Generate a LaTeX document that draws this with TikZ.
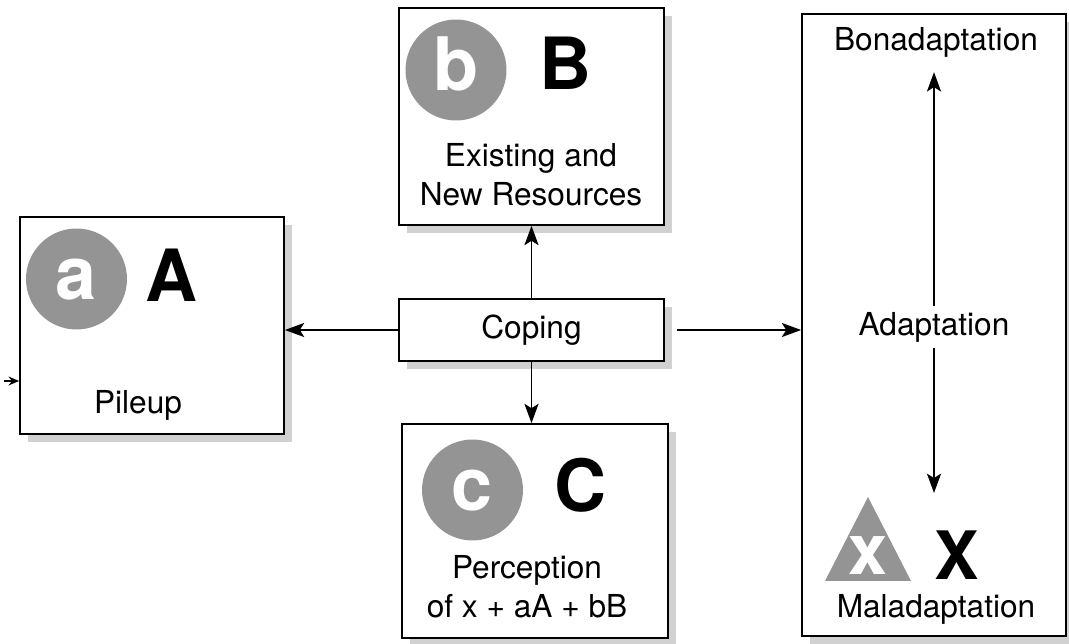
\documentclass[tikz,border=0pt]{standalone}
\usepackage{fontspec}
\setmainfont{TeX Gyre Heros}
\usetikzlibrary{arrows.meta,shadows}

\tikzset{
  panel/.style={draw=black, line width=1pt, fill=white, inner sep=0pt,
    drop shadow={shadow xshift=0.16cm, shadow yshift=-0.16cm, fill=black!18, opacity=1}},
  badge/.style={circle, fill=black!42, text=white, minimum size=2.02cm, inner sep=0pt,
    text height=0.84cm, text depth=0cm, font=\fontsize{42}{42}\selectfont\bfseries},
  bigletter/.style={inner sep=0pt, font=\fontsize{41}{41}\selectfont\bfseries},
  txt/.style={font=\fontsize{18}{22}\selectfont, align=center},
  link/.style={->, line width=1.1pt},
}

\begin{document}
\begin{tikzpicture}[x=0.02cm, y=-0.02cm, >={Stealth[length=11pt,width=8pt,inset=2.5pt]}]
    \useasboundingbox (0,0) rectangle (1069,644);

    % boxes
    \node (A) [panel, minimum width=5.28cm, minimum height=4.34cm] at (152,325.5) {};
    \node (B) [panel, minimum width=5.3cm, minimum height=4.34cm] at (531.5,116.5) {};
    \node (coping) [panel, minimum width=5.3cm, minimum height=1.24cm, font=\fontsize{18}{22}\selectfont] at (531.5,330) {Coping};
    \node (C) [panel, minimum width=5.32cm, minimum height=4.28cm] at (535,531) {};
    \node (R) [panel, minimum width=5.28cm, minimum height=12.44cm] at (934,325) {};

    % box contents
    \node (a) [badge] at (76.5,279) {a};
    \node (Aletter) [bigletter] at (172,275) {A};
    \node (pileup) [txt] at (138,405) {Pileup};

    \node (b) [badge] at (456,70) {b};
    \node (Bletter) [bigletter] at (565,63) {B};
    \node (resources) [txt] at (531,175) {Existing and\\New Resources};

    \node (c) [badge] at (472.5,490) {c};
    \node (Cletter) [bigletter] at (580,485) {C};
    \node (perception) [txt] at (527,587) {Perception\\of x + aA + bB};

    \node (bona) [txt] at (936,42) {Bonadaptation};
    \node (adapt) [txt] at (934,327) {Adaptation};
    \fill[black!42] (825,581) -- (868,497) -- (911,581) -- cycle;
    \node (x) [text=white, inner sep=0pt, font=\fontsize{40}{40}\selectfont\bfseries] at (868,556) {x};
    \node (Xletter) [bigletter, font=\fontsize{38}{38}\selectfont\bfseries] at (957,555) {X};
    \node (mala) [txt] at (936,609) {Maladaptation};

    % arrows
    \coordinate (stub) at (4,381);
    \coordinate (malend) at (934,493);
    \draw[link] (coping.west) -- (coping.west -| A.east);
    \draw[link] (coping.north) -- (coping.north |- B.south);
    \draw[link] (coping.south) -- (coping.south |- C.north);
    \draw[link] ([xshift=0.24cm]coping.east) -- (coping.east -| R.west);
    \draw[link, >={Stealth[length=6pt,width=5pt]}] (stub) -- (stub -| A.west);
    \draw[link, shorten >=0.18cm] (adapt.north) -- (adapt.north |- bona.south);
    \draw[link] (adapt.south) -- (malend);
\end{tikzpicture}
\end{document}
